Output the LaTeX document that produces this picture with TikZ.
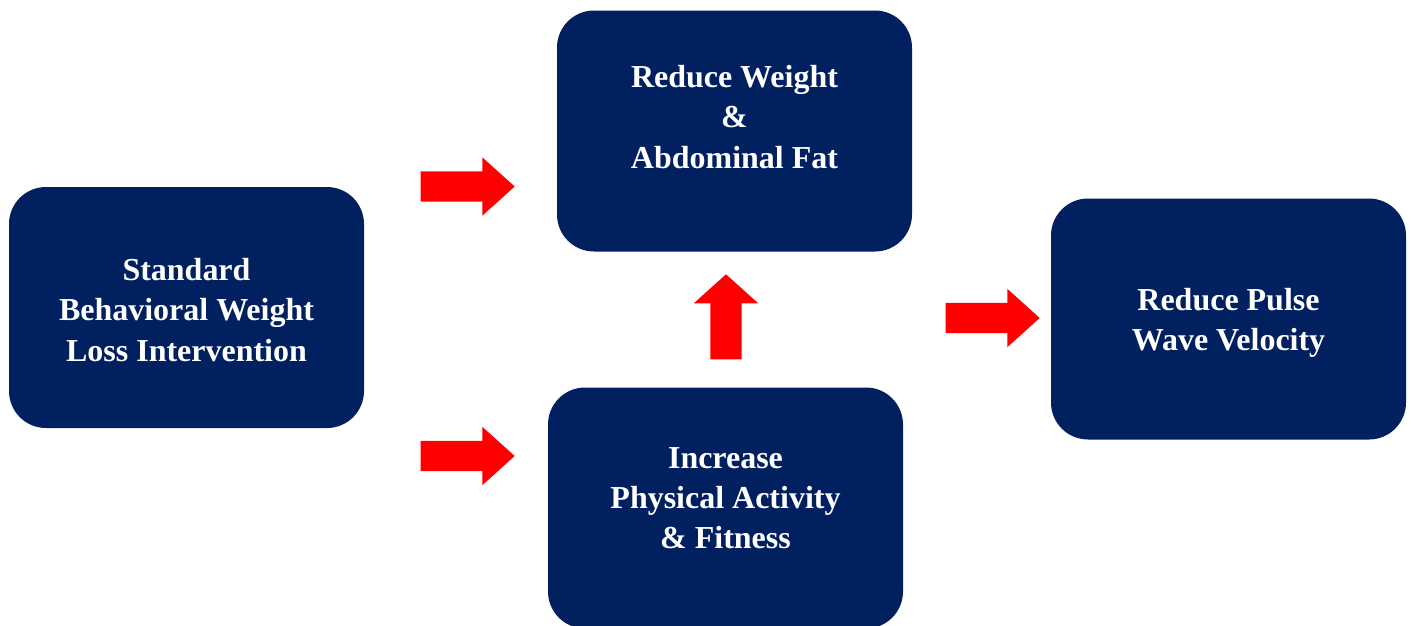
\documentclass[tikz,border=0pt]{standalone}
\usepackage{fontspec}
\setmainfont{Liberation Serif}
\usetikzlibrary{shapes.arrows}
\definecolor{boxblue}{RGB}{0,32,96}

\begin{document}
\begin{tikzpicture}[
  box/.style={rectangle, rounded corners=0.37cm, fill=boxblue, minimum width=3.55cm, minimum height=2.41cm},
  txt/.style={text=white, align=center, font=\fontsize{9.1}{11.4}\selectfont\bfseries},
  blockarrow/.style={single arrow, fill=red, anchor=tail, inner sep=0.145cm, minimum width=0.57cm,
    single arrow head extend=0.14cm, single arrow tip angle=84, minimum height=0.94cm}
]
\useasboundingbox (0, 0) rectangle (14.11, 6.25);

\node[box] (sbwl) at (1.865, 3.175) {};
\node[txt] (sbwltxt) at (1.865, 3.15) {Standard\\ Behavioral Weight\\ Loss Intervention};

\node[box] (weight) at (7.345, 4.94) {};
\node[txt] (weighttxt) at (7.345, 5.08) {Reduce Weight\\ \&\\ Abdominal Fat};

\node[box] (activity) at (7.255, 1.17) {};
\node[txt] (activitytxt) at (7.255, 1.27) {Increase\\ Physical Activity\\ \& Fitness};

\node[box] (pwv) at (12.285, 3.06) {};
\node[txt] (pwvtxt) at (12.285, 3.02) {Reduce Pulse\\ Wave Velocity};

\node[blockarrow] (a1) at (4.20, 4.385) {};
\node[blockarrow] (a2) at (4.20, 1.69) {};
\node[blockarrow, rotate=90, inner sep=0.15cm, minimum width=0.63cm, single arrow head extend=0.165cm,
  single arrow tip angle=96, minimum height=0.85cm] (a3) at (7.26, 2.65) {};
\node[blockarrow] (a4) at (9.45, 3.07) {};

\end{tikzpicture}
\end{document}
